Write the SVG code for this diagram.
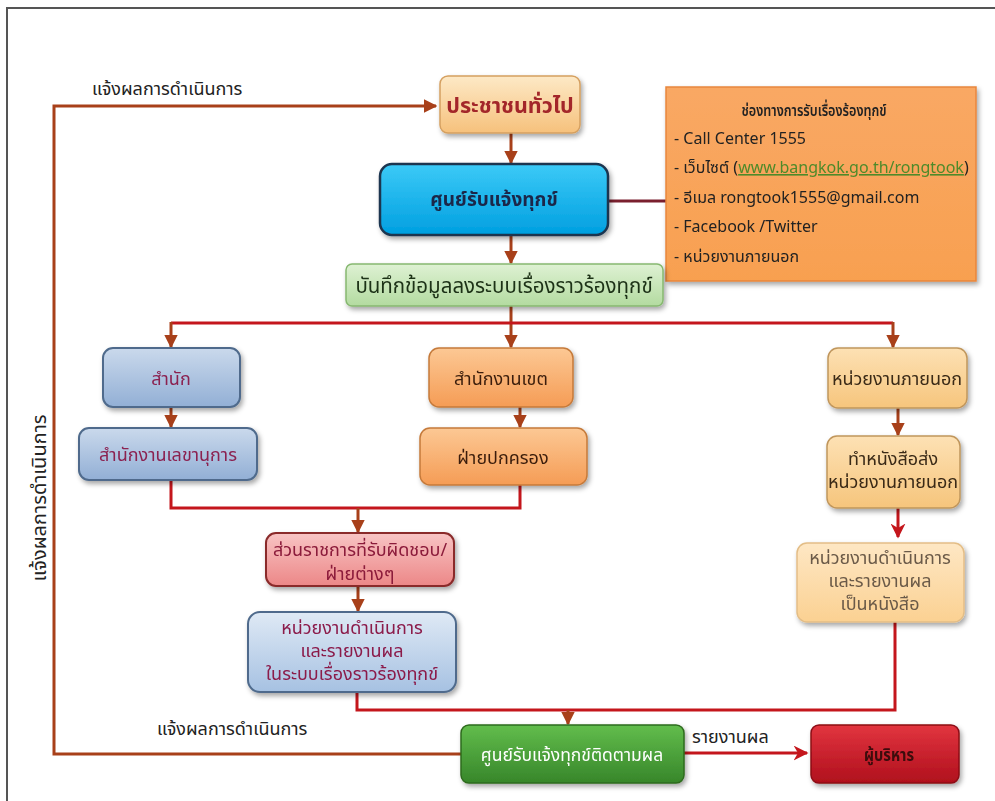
<svg xmlns="http://www.w3.org/2000/svg" width="995" height="801" viewBox="0 0 995 801">
<style>
text{font-family:"Noto Sans","Noto Sans Thai",Tahoma,sans-serif;}
.n{text-anchor:middle;font-size:18px;}
.b{font-weight:bold;}
.lbl{font-size:18px;fill:#222;}
.info{font-size:16px;fill:#222;}
.red{fill:none;stroke:#c4161c;stroke-width:3;}
.brn{fill:none;stroke:#a8401a;stroke-width:3;}
</style>
<defs>
<marker id="ah" viewBox="0 0 10 10" refX="9" refY="5" markerWidth="4.5" markerHeight="4.5" orient="auto" markerUnits="strokeWidth">
<path d="M0,0 L10,5 L0,10 z" fill="#a8401a"/>
</marker>
<marker id="ahr" viewBox="0 0 10 10" refX="9" refY="5" markerWidth="5" markerHeight="5" orient="auto" markerUnits="strokeWidth">
<path d="M0,0 L10,5 L0,10 L3,5 z" fill="#c4161c"/>
</marker>
<filter id="sh" x="-10%" y="-10%" width="130%" height="140%">
<feDropShadow dx="2" dy="3" stdDeviation="2.5" flood-color="#000" flood-opacity="0.35"/>
</filter>
<linearGradient id="gPeach" x1="0" y1="0" x2="0" y2="1"><stop offset="0" stop-color="#fde9c6"/><stop offset="1" stop-color="#f6c17c"/></linearGradient>
<linearGradient id="gBlue" x1="0" y1="0" x2="0" y2="1"><stop offset="0" stop-color="#3ccaf7"/><stop offset="1" stop-color="#009fe0"/></linearGradient>
<linearGradient id="gLGreen" x1="0" y1="0" x2="0" y2="1"><stop offset="0" stop-color="#def1d3"/><stop offset="1" stop-color="#b3dba0"/></linearGradient>
<linearGradient id="gInfo" x1="0" y1="0" x2="0" y2="1"><stop offset="0" stop-color="#f9a864"/><stop offset="1" stop-color="#f8a050"/></linearGradient>
<linearGradient id="gSteel" x1="0" y1="0" x2="0" y2="1"><stop offset="0" stop-color="#cad9ec"/><stop offset="1" stop-color="#92afd5"/></linearGradient>
<linearGradient id="gOrange" x1="0" y1="0" x2="0" y2="1"><stop offset="0" stop-color="#fcc894"/><stop offset="1" stop-color="#f59c55"/></linearGradient>
<linearGradient id="gLight" x1="0" y1="0" x2="0" y2="1"><stop offset="0" stop-color="#fde1b4"/><stop offset="1" stop-color="#f6c57c"/></linearGradient>
<linearGradient id="gCream" x1="0" y1="0" x2="0" y2="1"><stop offset="0" stop-color="#fee7c4"/><stop offset="1" stop-color="#fbd192"/></linearGradient>
<linearGradient id="gPink" x1="0" y1="0" x2="0" y2="1"><stop offset="0" stop-color="#f8c4c4"/><stop offset="1" stop-color="#ec8787"/></linearGradient>
<linearGradient id="gPale" x1="0" y1="0" x2="0" y2="1"><stop offset="0" stop-color="#dfe9f5"/><stop offset="1" stop-color="#a6c1e2"/></linearGradient>
<linearGradient id="gGreen" x1="0" y1="0" x2="0" y2="1"><stop offset="0" stop-color="#62bd4c"/><stop offset="1" stop-color="#37862a"/></linearGradient>
<linearGradient id="gRed" x1="0" y1="0" x2="0" y2="1"><stop offset="0" stop-color="#e2353f"/><stop offset="1" stop-color="#b0101d"/></linearGradient>
</defs>

<rect x="0" y="0" width="995" height="801" fill="#ffffff"/>
<path d="M7,801 V8 H995" fill="none" stroke="#555" stroke-width="2"/>

<g id="connectors">
<line x1="511" y1="133" x2="511" y2="163" class="brn" marker-end="url(#ah)"/>
<line x1="511" y1="235" x2="511" y2="263" class="brn" marker-end="url(#ah)"/>
<line x1="608" y1="201" x2="666" y2="201" stroke="#7a1f2e" stroke-width="3"/>
<line x1="511" y1="306" x2="511" y2="347" class="brn" marker-end="url(#ah)"/>
<line x1="171" y1="323" x2="893" y2="323" class="red"/>
<line x1="171" y1="322" x2="171" y2="347" class="brn" marker-end="url(#ah)"/>
<line x1="893" y1="322" x2="893" y2="347" class="brn" marker-end="url(#ah)"/>
<line x1="171" y1="407" x2="171" y2="427" class="brn" marker-end="url(#ah)"/>
<line x1="520" y1="407" x2="520" y2="427" class="brn" marker-end="url(#ah)"/>
<line x1="898" y1="408" x2="898" y2="435" class="brn" marker-end="url(#ah)"/>
<line x1="898" y1="508" x2="898" y2="537" class="red" marker-end="url(#ahr)"/>
<path d="M171,480 V508 H520 V485" class="red"/>
<line x1="358" y1="508" x2="358" y2="532" class="brn" marker-end="url(#ah)"/>
<line x1="358" y1="586" x2="358" y2="611" class="brn" marker-end="url(#ah)"/>
<path d="M357,692 V710 H895 V622" class="red"/>
<line x1="568" y1="710" x2="568" y2="724" class="brn" marker-end="url(#ah)"/>
<line x1="684" y1="753" x2="807" y2="753" class="red" marker-end="url(#ahr)"/>
<path d="M461,754 H54 V106 H436" class="brn" marker-end="url(#ah)"/>
</g>

<g id="labels">
<text x="92" y="95" class="lbl">แจ้งผลการดำเนินการ</text>
<text x="157" y="735" class="lbl">แจ้งผลการดำเนินการ</text>
<text class="lbl" text-anchor="middle" style="font-size:20px" transform="translate(46,498) rotate(-90)">แจ้งผลการดำเนินการ</text>
<text x="692" y="743" class="lbl">รายงานผล</text>
</g>

<g id="n-public" filter="url(#sh)">
<rect x="440" y="76" width="140" height="57" rx="8" fill="url(#gPeach)" stroke="#d5a060" stroke-width="1.5"/>
<text x="510" y="113" class="n b" fill="#a3282a" style="font-size:21.5px">ประชาชนทั่วไป</text>
</g>

<g id="n-center" filter="url(#sh)">
<rect x="380" y="164" width="228" height="71" rx="12" fill="url(#gBlue)" stroke="#1b3550" stroke-width="2.5"/>
<text x="494" y="206" class="n b" fill="#1a2848" style="font-size:19px">ศูนย์รับแจ้งทุกข์</text>
</g>

<g id="n-channels" filter="url(#sh)">
<rect x="666" y="87" width="310" height="194" fill="url(#gInfo)" stroke="#e8863c" stroke-width="1.5"/>
<text x="814" y="116" class="info" text-anchor="middle" style="font-size:16px;font-weight:600" textLength="145" lengthAdjust="spacingAndGlyphs">ช่องทางการรับเรื่องร้องทุกข์</text>
<text x="674" y="144" class="info">- Call Center 1555</text>
<text x="674" y="173" class="info">- เว็บไซต์ (<tspan fill="#4e8a2a" text-decoration="underline">www.bangkok.go.th/rongtook</tspan>)</text>
<text x="674" y="203" class="info">- อีเมล rongtook1555@gmail.com</text>
<text x="674" y="232" class="info">- Facebook /Twitter</text>
<text x="674" y="262" class="info">- หน่วยงานภายนอก</text>
</g>

<g id="n-record" filter="url(#sh)">
<rect x="346" y="264" width="317" height="42" rx="6" fill="url(#gLGreen)" stroke="#86b870" stroke-width="1.5"/>
<text x="504" y="293" class="n" fill="#1e3218" style="font-size:20.5px">บันทึกข้อมูลลงระบบเรื่องราวร้องทุกข์</text>
</g>

<g id="n-office" filter="url(#sh)">
<rect x="103" y="348" width="137" height="59" rx="10" fill="url(#gSteel)" stroke="#4f6b8c" stroke-width="2"/>
<text x="171" y="385" class="n" fill="#8b2050">สำนัก</text>
</g>

<g id="n-secretary" filter="url(#sh)">
<rect x="79" y="428" width="178" height="52" rx="10" fill="url(#gSteel)" stroke="#4f6b8c" stroke-width="2"/>
<text x="168" y="461" class="n" fill="#8b2050">สำนักงานเลขานุการ</text>
</g>

<g id="n-district" filter="url(#sh)">
<rect x="429" y="348" width="144" height="59" rx="10" fill="url(#gOrange)" stroke="#c57a3a" stroke-width="1.5"/>
<text x="501" y="385" class="n" fill="#3b1e0c">สำนักงานเขต</text>
</g>

<g id="n-admin" filter="url(#sh)">
<rect x="420" y="428" width="167" height="57" rx="10" fill="url(#gOrange)" stroke="#c57a3a" stroke-width="1.5"/>
<text x="503" y="464" class="n" fill="#3b1e0c">ฝ่ายปกครอง</text>
</g>

<g id="n-external" filter="url(#sh)">
<rect x="828" y="348" width="139" height="60" rx="10" fill="url(#gLight)" stroke="#c0965c" stroke-width="1.5"/>
<text x="897" y="385" class="n" fill="#3a2a18">หน่วยงานภายนอก</text>
</g>

<g id="n-letter" filter="url(#sh)">
<rect x="827" y="436" width="133" height="72" rx="10" fill="url(#gLight)" stroke="#c0965c" stroke-width="1.5"/>
<text x="893" y="465" class="n" fill="#3a2a18">ทำหนังสือส่ง</text>
<text x="893" y="488" class="n" fill="#3a2a18">หน่วยงานภายนอก</text>
</g>

<g id="n-ext-report" filter="url(#sh)">
<rect x="797" y="543" width="167" height="79" rx="10" fill="url(#gCream)" stroke="#e3bd86" stroke-width="1.5"/>
<text x="880" y="564" class="n" fill="#6b5a48">หน่วยงานดำเนินการ</text>
<text x="880" y="587" class="n" fill="#6b5a48">และรายงานผล</text>
<text x="880" y="610" class="n" fill="#6b5a48">เป็นหนังสือ</text>
</g>

<g id="n-dept" filter="url(#sh)">
<rect x="266" y="533" width="188" height="53" rx="10" fill="url(#gPink)" stroke="#8a2a2a" stroke-width="2"/>
<text x="360" y="556" class="n" fill="#8b1a3a">ส่วนราชการที่รับผิดชอบ/</text>
<text x="360" y="580" class="n" fill="#8b1a3a">ฝ่ายต่างๆ</text>
</g>

<g id="n-int-report" filter="url(#sh)">
<rect x="248" y="612" width="208" height="80" rx="12" fill="url(#gPale)" stroke="#4f6b8c" stroke-width="2"/>
<text x="352" y="634" class="n" fill="#8b1a4a">หน่วยงานดำเนินการ</text>
<text x="352" y="657" class="n" fill="#8b1a4a">และรายงานผล</text>
<text x="352" y="680" class="n" fill="#8b1a4a">ในระบบเรื่องราวร้องทุกข์</text>
</g>

<g id="n-follow" filter="url(#sh)">
<rect x="461" y="725" width="223" height="58" rx="8" fill="url(#gGreen)" stroke="#2d6b1e" stroke-width="1.5"/>
<text x="572" y="761" class="n" fill="#ffffff" style="font-size:17.5px">ศูนย์รับแจ้งทุกข์ติดตามผล</text>
</g>

<g id="n-exec" filter="url(#sh)">
<rect x="811" y="725" width="148" height="58" rx="8" fill="url(#gRed)" stroke="#8c0c16" stroke-width="1.5"/>
<text x="889" y="761" class="n b" fill="#3a0a0a" style="font-size:17px" textLength="50" lengthAdjust="spacingAndGlyphs">ผู้บริหาร</text>
</g>
</svg>
